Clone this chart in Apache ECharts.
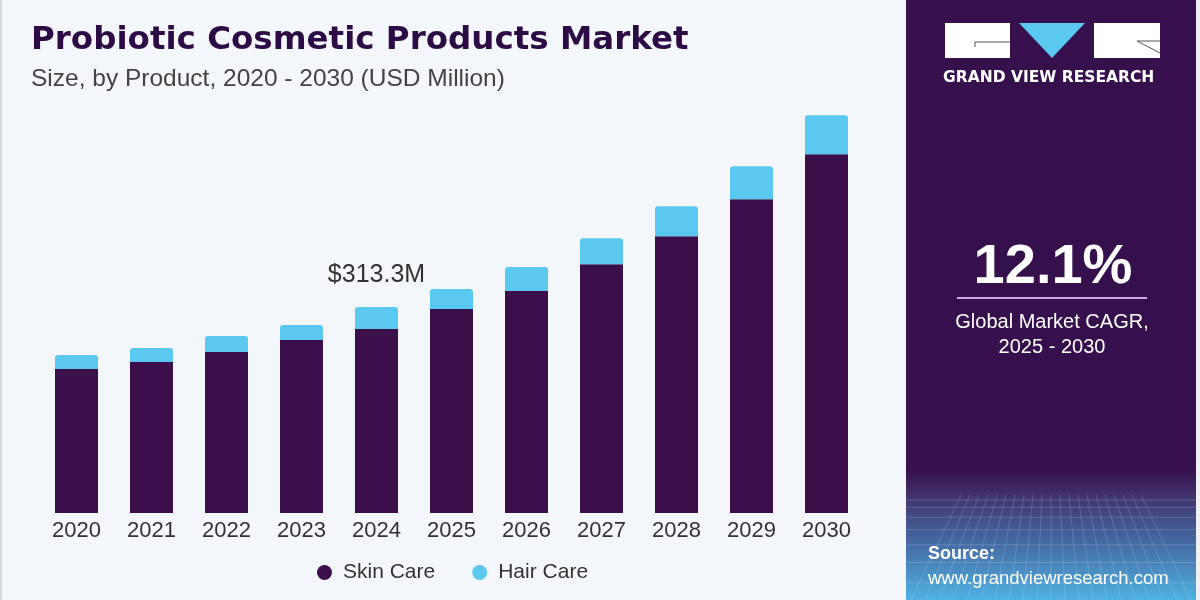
<!DOCTYPE html>
<html>
<head>
<meta charset="utf-8">
<script src="https://cdn.jsdelivr.net/npm/echarts@6/dist/echarts.min.js"></script>
<style>
  html, body { margin: 0; padding: 0; background: #f3f7fb; }
  #chart { width: 1200px; height: 600px; }
</style>
</head>
<body>
<div id="chart"></div>
<script>
// market size, USD million
const years = ['2020', '2021', '2022', '2023', '2024', '2025', '2026', '2027', '2028', '2029', '2030']
const skinCare = [219.0, 229.7, 244.9, 263.1, 279.9, 310.3, 337.7, 378.7, 421.3, 477.6, 546.0]
const hairCare = [21.3, 21.3, 24.3, 22.8, 33.4, 30.4, 36.5, 39.5, 45.6, 50.2, 59.3]
const labelYear = '2024'

const darkPurple = '#3a0f4a'
const lightBlue = '#5bc8f0'

const chart = echarts.init(document.getElementById('chart'))

// faint grid texture for the bottom of the side panel
const gridLines = []
for (let i = 0; i < 9; i++) {
  const y = 500 + i * i * 1.3 + i * 6
  gridLines.push({
    type: 'line',
    shape: { x1: 906, y1: y, x2: 1196, y2: y },
    style: { stroke: 'rgba(200,225,255,0.22)', lineWidth: 1 }
  })
}
for (let i = -10; i <= 10; i++) {
  gridLines.push({
    type: 'line',
    shape: { x1: 1051 + i * 9, y1: 495, x2: 1051 + i * 14, y2: 600 },
    style: { stroke: 'rgba(200,225,255,0.2)', lineWidth: 1 }
  })
}

chart.setOption({
  backgroundColor: '#f3f7fb',
  animation: false,
  title: [{
    text: 'Probiotic Cosmetic Products Market',
    left: 26,
    top: 19,
    textStyle: { fontFamily: 'DejaVu Sans', fontWeight: 'bold', fontSize: 32.5, color: '#2d0c45' }
  }, {
    text: 'Size, by Product, 2020 - 2030 (USD Million)',
    left: 26,
    top: 62,
    textStyle: { fontFamily: 'Liberation Sans', fontWeight: 'normal', fontSize: 24.5, color: '#444' }
  }],
  legend: {
    bottom: 12,
    left: 312,
    icon: 'circle',
    itemWidth: 15,
    itemHeight: 15,
    itemGap: 37,
    textStyle: { fontFamily: 'Liberation Sans', fontSize: 21, color: '#333', padding: [0, 0, 0, 6] },
    data: ['Skin Care', 'Hair Care']
  },
  grid: { left: 39, right: 336, top: 53, bottom: 87 },
  xAxis: {
    type: 'category',
    data: years,
    axisLine: { show: false },
    axisTick: { show: false },
    axisLabel: { fontFamily: 'Liberation Sans', fontSize: 22, color: '#333', margin: 7 }
  },
  yAxis: {
    type: 'value',
    min: 0,
    max: 700,
    show: false,
    splitLine: { show: false }
  },
  series: [{
    name: 'Skin Care',
    type: 'bar',
    stack: 'total',
    barWidth: 43,
    itemStyle: { color: darkPurple },
    data: skinCare
  }, {
    name: 'Hair Care',
    type: 'bar',
    stack: 'total',
    barWidth: 43,
    itemStyle: { color: lightBlue, borderRadius: [3, 3, 0, 0] },
    label: {
      show: true,
      position: 'top',
      distance: 20,
      fontFamily: 'Liberation Sans',
      fontSize: 25,
      color: '#333',
      formatter: p => p.name === labelYear
        ? '$' + (skinCare[p.dataIndex] + hairCare[p.dataIndex]).toFixed(1) + 'M'
        : ''
    },
    data: hairCare
  }],
  graphic: [
    { type: 'rect', shape: { x: 0, y: 0, width: 2, height: 600 }, style: { fill: '#d5d8dd' } },
    { type: 'rect', shape: { x: 906, y: 0, width: 290, height: 600 }, style: { fill: '#36104c' } },
    {
      type: 'rect',
      shape: { x: 906, y: 470, width: 290, height: 130 },
      style: {
        fill: new echarts.graphic.LinearGradient(0, 0, 0, 1, [
          { offset: 0, color: '#36104c' },
          { offset: 0.2, color: '#41336e' },
          { offset: 0.6, color: '#4670a8' },
          { offset: 1, color: '#4fb2e2' }
        ])
      }
    },
    ...gridLines,
    { type: 'rect', shape: { x: 1196, y: 0, width: 4, height: 600 }, style: { fill: '#eef2f6' } },
    // logo
    { type: 'rect', shape: { x: 945, y: 23, width: 65, height: 35 }, style: { fill: '#ffffff' } },
    { type: 'line', shape: { x1: 975, y1: 42, x2: 1010, y2: 42 }, style: { stroke: '#555', lineWidth: 1 } },
    { type: 'line', shape: { x1: 975, y1: 42, x2: 975, y2: 47 }, style: { stroke: '#555', lineWidth: 1 } },
    { type: 'polygon', shape: { points: [[1019, 23], [1085, 23], [1052, 58]] }, style: { fill: '#5bc8f0' } },
    { type: 'rect', shape: { x: 1094, y: 23, width: 66, height: 35 }, style: { fill: '#ffffff' } },
    { type: 'line', shape: { x1: 1137, y1: 41, x2: 1160, y2: 41 }, style: { stroke: '#555', lineWidth: 1 } },
    { type: 'line', shape: { x1: 1137, y1: 41, x2: 1160, y2: 53 }, style: { stroke: '#555', lineWidth: 1 } },
    {
      type: 'text', left: 943, top: 70,
      style: { text: 'GRAND VIEW RESEARCH', fill: '#ffffff', font: 'bold 15.5px "DejaVu Sans"' }
    },
    // CAGR block
    {
      type: 'text', x: 1053, y: 268,
      style: { text: '12.1%', fill: '#ffffff', font: 'bold 56px "Liberation Sans"', align: 'center', verticalAlign: 'middle' }
    },
    { type: 'line', shape: { x1: 957, y1: 298, x2: 1147, y2: 298 }, style: { stroke: '#c9a9e0', lineWidth: 2 } },
    {
      type: 'text', x: 1052, y: 322,
      style: { text: 'Global Market CAGR,', fill: '#ffffff', font: '20px "Liberation Sans"', align: 'center', verticalAlign: 'middle' }
    },
    {
      type: 'text', x: 1052, y: 347,
      style: { text: '2025 - 2030', fill: '#ffffff', font: '20px "Liberation Sans"', align: 'center', verticalAlign: 'middle' }
    },
    // source
    {
      type: 'text', left: 928, top: 545,
      style: { text: 'Source:', fill: '#ffffff', font: 'bold 18px "Liberation Sans"' }
    },
    {
      type: 'text', left: 928, top: 569,
      style: { text: 'www.grandviewresearch.com', fill: '#ffffff', font: '18.5px "Liberation Sans"' }
    }
  ]
})
</script>
</body>
</html>
